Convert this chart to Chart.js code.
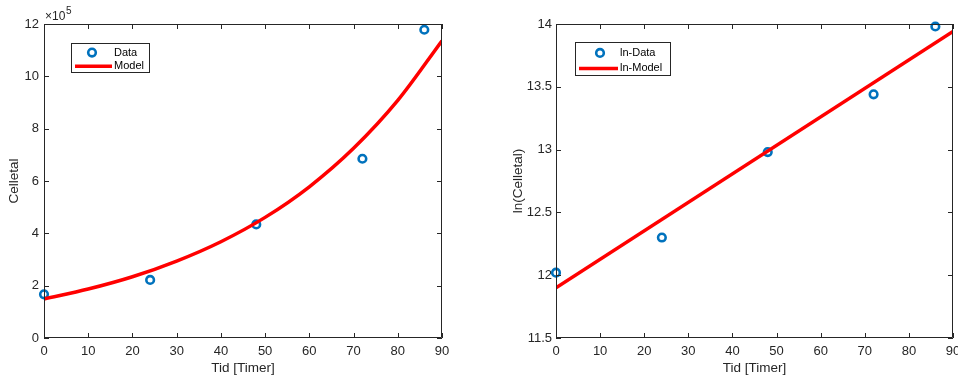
<!DOCTYPE html>
<html>
<head>
<meta charset="utf-8">
<script src="https://cdn.jsdelivr.net/npm/chart.js@4"></script>
<style>
  html, body { margin: 0; padding: 0; background: #fff; }
  .wrap { display: flex; width: 958px; height: 376px; }
  .cell { position: relative; width: 479px; height: 376px; overflow: hidden; }
</style>
</head>
<body>
<div class="wrap">
  <div class="cell"><canvas id="left"></canvas></div>
  <div class="cell"><canvas id="right"></canvas></div>
</div>
<script>
// measured data (hours vs cell count, count in units of 1e5)
const hours = [0, 24, 48, 72, 86];
const cells = [1.67, 2.22, 4.34, 6.85, 11.78];
const lnCells = [12.02, 12.30, 12.98, 13.44, 13.98];

// fitted model
const modelHours = [0, 10, 20, 30, 40, 50, 60, 70, 80, 90];
const modelCells = [1.49, 1.87, 2.34, 2.94, 3.68, 4.61, 5.78, 7.25, 9.08, 11.36];
const lnModelHours = [0, 90];
const lnModelCells = [11.90, 13.94];

const xTicks = [0, 10, 20, 30, 40, 50, 60, 70, 80, 90];

const FONT = "'Liberation Sans', Arial, Helvetica, sans-serif";
const INK = '#262626';
const BLUE = '#0072BD';

const pts = (xs, ys) => xs.map((x, i) => ({ x: x, y: ys[i] }));

// draws the MATLAB style box, inward ticks, legend and exponent label
const matlabBox = {
  id: 'matlabBox',
  afterDatasetsDraw(chart, args, opts) {
    const c = chart.ctx;
    const a = chart.chartArea;
    const xs = chart.scales.x, ys = chart.scales.y;
    c.save();
    c.strokeStyle = INK;
    c.lineWidth = 1;
    c.beginPath();
    c.rect(a.left + 0.5, a.top + 0.5, a.right - a.left - 1, a.bottom - a.top - 1);
    c.stroke();
    const t = 5;
    c.beginPath();
    xs.ticks.forEach(tk => {
      const px = Math.round(xs.getPixelForValue(tk.value)) + 0.5;
      c.moveTo(px, a.bottom); c.lineTo(px, a.bottom - t);
      c.moveTo(px, a.top); c.lineTo(px, a.top + t);
    });
    ys.ticks.forEach(tk => {
      const py = Math.round(ys.getPixelForValue(tk.value)) + 0.5;
      c.moveTo(a.left, py); c.lineTo(a.left + t, py);
      c.moveTo(a.right, py); c.lineTo(a.right - t, py);
    });
    c.stroke();

    // legend
    const L = opts.legend;
    c.fillStyle = '#fff';
    c.fillRect(L.x, L.y, L.w, L.h);
    c.strokeStyle = INK;
    c.strokeRect(L.x + 0.5, L.y + 0.5, L.w, L.h);
    const r1 = L.y + L.h * 0.33, r2 = L.y + L.h * 0.8;
    c.beginPath();
    c.arc(L.x + L.mx, r1, 3.8, 0, Math.PI * 2);
    c.fillStyle = '#fff'; c.fill();
    c.lineWidth = 2.6; c.strokeStyle = BLUE; c.stroke();
    c.beginPath();
    c.moveTo(L.x + 4, r2); c.lineTo(L.x + L.tx - 2, r2);
    c.lineWidth = 3.5; c.strokeStyle = '#ff0000'; c.stroke();
    c.fillStyle = '#000';
    c.font = '11px ' + FONT;
    c.textBaseline = 'middle';
    c.fillText(opts.labels[0], L.x + L.tx, r1);
    c.fillText(opts.labels[1], L.x + L.tx, r2);

    if (opts.exponent) {
      c.fillStyle = INK;
      c.font = '12px ' + FONT;
      c.textBaseline = 'alphabetic';
      c.fillText('\u00d710', a.left + 1, a.top - 4);
      c.font = '10px ' + FONT;
      c.fillText('5', a.left + 22, a.top - 10);
    }
    c.restore();
  }
};

function makeChart(id, cfg) {
  const cv = document.getElementById(id);
  cv.width = cfg.width; cv.height = 376;
  return new Chart(cv, {
    type: 'scatter',
    data: {
      datasets: [
        {
          label: cfg.labels[1],
          data: cfg.model,
          showLine: true,
          borderColor: '#ff0000',
          borderWidth: 3.5,
          pointRadius: 0,
          cubicInterpolationMode: 'monotone',
          order: 0
        },
        {
          label: cfg.labels[0],
          data: cfg.data,
          showLine: false,
          pointRadius: 3.8,
          pointBorderWidth: 2.6,
          pointBorderColor: BLUE,
          pointBackgroundColor: '#fff',
          clip: false,
          order: 1
        }
      ]
    },
    options: {
      responsive: false,
      animation: false,
      events: [],
      layout: { padding: { top: 24, right: cfg.padRight, left: 0, bottom: 0 } },
      plugins: {
        legend: { display: false },
        tooltip: { enabled: false },
        matlabBox: { legend: cfg.legend, labels: cfg.labels, exponent: cfg.exponent }
      },
      scales: {
        x: {
          type: 'linear', min: 0, max: 90,
          afterBuildTicks: s => { s.ticks = xTicks.map(v => ({ value: v })); },
          afterFit: s => { s.height = 38; },
          grid: { display: false, drawTicks: false, tickLength: 0 },
          border: { display: false },
          ticks: { color: INK, font: { family: FONT, size: 13 }, padding: 6, maxRotation: 0 },
          title: { display: true, text: 'Tid [Timer]', color: INK, font: { family: FONT, size: 13.5 }, padding: { top: 0, bottom: 0 } }
        },
        y: {
          type: 'linear', min: cfg.yMin, max: cfg.yMax,
          ticks: {
            stepSize: cfg.yStep, color: INK, font: { family: FONT, size: 13 }, padding: cfg.tickPad,
            callback: v => String(Number(v))
          },
          afterFit: s => { s.width = cfg.yWidth; },
          grid: { display: false, drawTicks: false, tickLength: 0 },
          border: { display: false },
          title: { display: true, text: cfg.yTitle, color: INK, font: { family: FONT, size: 13.5 }, padding: { top: cfg.titlePad, bottom: 2 } }
        }
      }
    },
    plugins: [matlabBox]
  });
}

makeChart('left', {
  data: pts(hours, cells),
  model: pts(modelHours, modelCells),
  labels: ['Data', 'Model'],
  yMin: 0, yMax: 12, yStep: 2,
  yTitle: 'Celletal',
  width: 479, yWidth: 44, padRight: 37, titlePad: 6, tickPad: 5,
  exponent: true,
  legend: { x: 71, y: 43, w: 78, h: 29, mx: 21, tx: 43 }
});

makeChart('right', {
  data: pts(hours, lnCells),
  model: pts(lnModelHours, lnModelCells),
  labels: ['ln-Data', 'ln-Model'],
  yMin: 11.5, yMax: 14, yStep: 0.5,
  yTitle: 'ln(Celletal)',
  width: 500, yWidth: 77, padRight: 26, titlePad: 31, tickPad: 4,
  exponent: false,
  legend: { x: 96, y: 42, w: 95, h: 33, mx: 25, tx: 45 }
});
</script>
</body>
</html>
